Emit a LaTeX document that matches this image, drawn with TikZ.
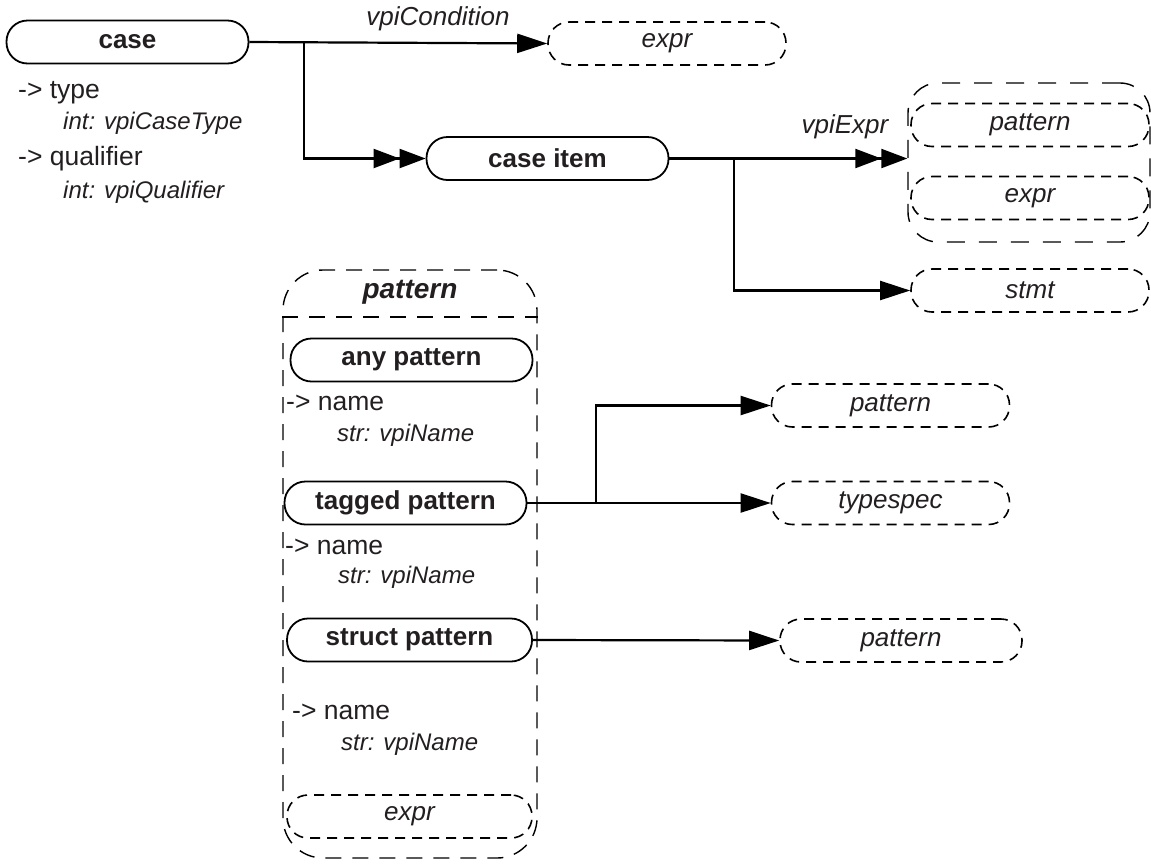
\documentclass[tikz,border=0pt]{standalone}
\usepackage{fontspec}
\setmainfont{Liberation Sans}
\usepackage{tikz}
\usetikzlibrary{arrows.meta,positioning}
\definecolor{inkgray}{RGB}{35,31,32}

\begin{document}
\begin{tikzpicture}[x=1pt,y=-1pt,
  objbox/.style={draw=black, line width=1.8pt, rounded corners=21pt, minimum width=242pt, minimum height=43pt, inner sep=0pt, font=\fontsize{26}{30}\selectfont\bfseries, text=inkgray},
  refbox/.style={draw=black, line width=1.6pt, dash pattern=on 10pt off 7pt, rounded corners=21pt, minimum width=238pt, minimum height=43pt, inner sep=0pt, font=\fontsize{26}{30}\selectfont\itshape, text=inkgray},
  groupbox/.style={draw=black, line width=1.4pt, inner sep=0pt},
  attr/.style={anchor=west, inner sep=0pt, font=\fontsize{26.5}{30}\selectfont, text=inkgray},
  attrval/.style={anchor=west, inner sep=0pt, font=\fontsize{24}{28}\selectfont\itshape, text=inkgray},
  rel/.style={line width=2.2pt, -{Triangle[length=30pt,width=19pt]}},
  relmany/.style={line width=2.2pt, -{Triangle[length=26pt,width=19pt]Triangle[length=26pt,width=19pt]}},
  rellabel/.style={inner sep=0pt, font=\fontsize{26}{30}\selectfont\itshape, text=inkgray},
]
  \useasboundingbox (0,0) rectangle (1151,863);

  % case
  \node[objbox] (case) at (127.5,42) {case};
  \node[attr] (ctype) at (18,93) {-> type};
  \node[attrval] (ctypev) at (63,123) {int: vpiCaseType};
  \node[attr] (cqual) at (18,159) {-> qualifier};
  \node[attrval] (cqualv) at (63,192) {int: vpiQualifier};

  % condition
  \node[refbox] (condexpr) at (667,43.5) {expr};
  \node[rellabel] (lblcond) at (438,19) {vpiCondition};
  \draw[rel] (case.east) -- (condexpr.west);

  % case item
  \node[objbox] (caseitem) at (547.5,158.5) {case item};
  \coordinate (jcase) at (304,42);
  \draw[relmany] (jcase) |- (caseitem.west);

  % vpiExpr group
  \node[groupbox, dash pattern=on 18pt off 14pt, rounded corners=30pt, minimum width=242pt, minimum height=159pt] (exprgroup) at (1029,162.5) {};
  \node[refbox] (itempat) at (1030,125) {pattern};
  \node[refbox] (itemexpr) at (1030,198) {expr};
  \node[rellabel] (lblexpr) at (845,127) {vpiExpr};
  \draw[relmany] (caseitem.east) -- (caseitem.east -| exprgroup.west);

  % statement
  \node[refbox] (stmt) at (1030,290.5) {stmt};
  \coordinate (jitem) at (734,158.5);
  \draw[rel] (jitem) |- (stmt.west);

  % pattern group
  \node[groupbox, dash pattern=on 16pt off 11pt, rounded corners=40pt, minimum width=254pt, minimum height=588pt] (patgroup) at (410,564) {};
  \node[inner sep=0pt, font=\fontsize{28}{32}\selectfont\bfseries\itshape, text=inkgray] (pathead) at (410,292) {pattern};
  \coordinate (sepline) at (0,317);
  \draw[line width=1.4pt, dash pattern=on 16pt off 11pt] (patgroup.west |- sepline) -- (patgroup.east |- sepline);

  % any pattern
  \node[objbox] (anypat) at (411.5,360) {any pattern};
  \node[attr] (anyname) at (286,403) {-> name};
  \node[attrval] (anynamev) at (337,435) {str: vpiName};

  % tagged pattern
  \node[objbox] (tagpat) at (405.5,503) {tagged pattern};
  \node[attr] (tagname) at (285,547) {-> name};
  \node[attrval] (tagnamev) at (338,577) {str: vpiName};

  % struct pattern
  \node[objbox, minimum width=245pt] (structpat) at (409.5,640) {struct pattern};
  \node[attr] (structname) at (292,712) {-> name};
  \node[attrval] (structnamev) at (341,744) {str: vpiName};

  \node[refbox, minimum width=245pt] (patexpr) at (409.5,816.5) {expr};

  % targets of tagged and struct pattern
  \node[refbox] (tagtarget) at (890.5,405.5) {pattern};
  \node[refbox] (tagtype) at (890.5,503) {typespec};
  \node[refbox, minimum width=242pt] (structtarget) at (901,640.5) {pattern};

  \draw[rel] (tagpat.east) -- (tagtype.west);
  \coordinate (jtag) at (596,503);
  \draw[rel] (jtag) |- (tagtarget.west);
  \draw[rel] (structpat.east) -- (structtarget.west);
\end{tikzpicture}
\end{document}
